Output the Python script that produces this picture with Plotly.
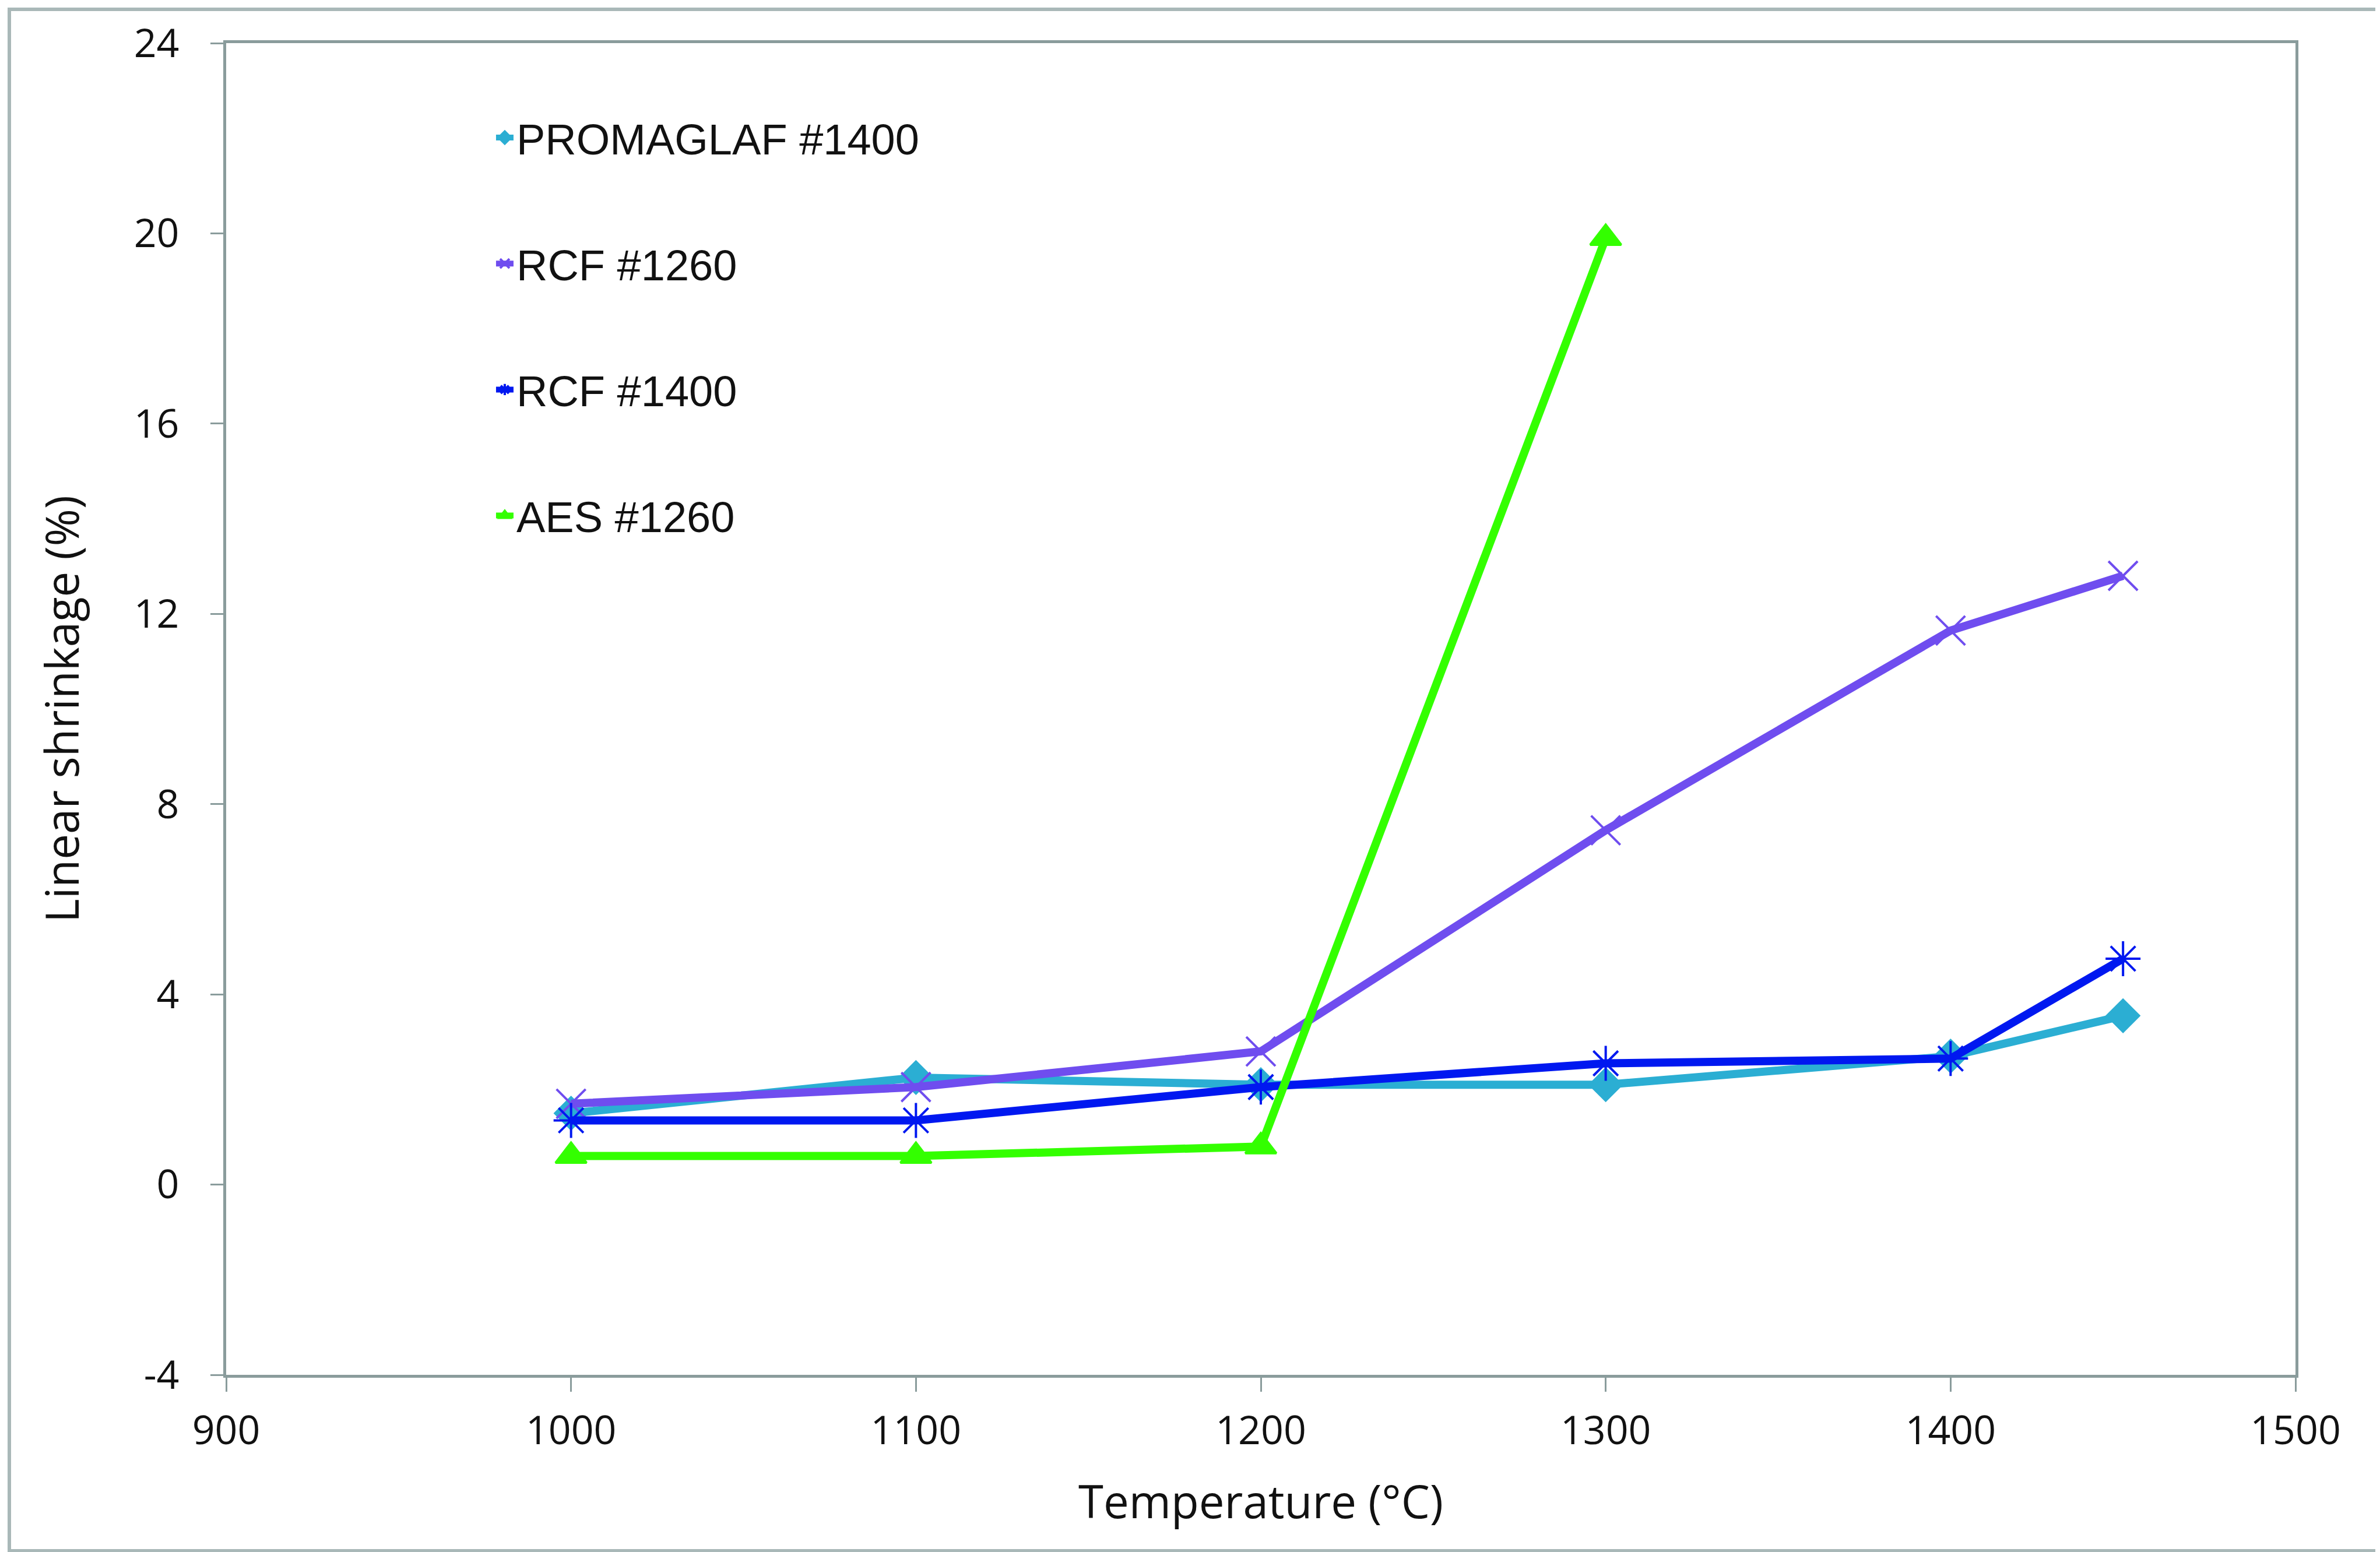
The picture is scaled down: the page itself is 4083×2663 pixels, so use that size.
import plotly.graph_objects as go

temps = [1000, 1100, 1200, 1300, 1400, 1450]
temps_aes = [1000, 1100, 1200, 1300]
promaglaf_1400 = [1.5, 2.25, 2.1, 2.1, 2.7, 3.55]
rcf_1260 = [1.7, 2.05, 2.8, 7.45, 11.65, 12.8]
rcf_1400 = [1.35, 1.35, 2.05, 2.55, 2.65, 4.75]
aes_1260 = [0.6, 0.6, 0.8, 19.9]

y_tick_vals = [-4, 0, 4, 8, 12, 16, 20, 24]
y_tick_text = ["-4", "0", "4", "8", "12", "16", "20", "24"]
x_tick_vals = [900, 1000, 1100, 1200, 1300, 1400, 1500]
x_tick_text = ["900", "1000", "1100", "1200", "1300", "1400", "1500"]

series = [
    ("PROMAGLAF #1400", temps, promaglaf_1400, "#2BAED3", "diamond", 42),
    ("RCF #1260", temps, rcf_1260, "#6F4DEF", "x-thin-open", 50),
    ("RCF #1400", temps, rcf_1400, "#0018F0", "asterisk-open", 50),
    ("AES #1260", temps_aes, aes_1260, "#33FF00", "triangle-up", 46),
]

fig = go.Figure()
for i, (name, xs, ys, col, sym, sz) in enumerate(series):
    fig.add_trace(go.Scatter(
        x=xs, y=ys, name=name, mode="lines+markers",
        legendgroup=f"g{i}",
        line=dict(color=col, width=14),
        marker=dict(symbol=sym, size=sz, color=col,
                    line=dict(color=col, width=4)),
    ))

axis_col = "#8A9C9C"
tick_font = dict(family="Open Sans", size=68, color="#111111")
title_font = dict(family="Open Sans", size=78, color="#111111")

L, R, T, B = 380, 153, 66, 312
W, H = 4083, 2663
pw, ph = W - L - R, H - T - B

fig.update_layout(
    width=W, height=H,
    margin=dict(l=L, r=R, t=T, b=B),
    paper_bgcolor="white", plot_bgcolor="white",
    showlegend=True,
    legend=dict(
        x=0.129, y=0.953, xanchor="left", yanchor="top",
        font=dict(family="Liberation Sans", size=74, color="#111111"),
        traceorder="grouped", tracegroupgap=117,
        bgcolor="rgba(0,0,0,0)", itemwidth=30,
    ),
    xaxis=dict(
        range=[900, 1500], tickvals=x_tick_vals, ticktext=x_tick_text,
        showgrid=False, zeroline=False,
        showline=True, linecolor=axis_col, linewidth=5, mirror=True,
        ticks="outside", ticklen=24, tickwidth=3, tickcolor=axis_col,
        tickfont=tick_font, ticklabelstandoff=8,
        title=dict(text="Temperature (°C)", font=title_font, standoff=55),
    ),
    yaxis=dict(
        range=[-4, 24], tickvals=y_tick_vals, ticktext=y_tick_text,
        showgrid=False, zeroline=False,
        showline=True, linecolor=axis_col, linewidth=5, mirror=True,
        ticks="outside", ticklen=22, tickwidth=3, tickcolor=axis_col,
        tickfont=tick_font, ticklabelstandoff=40,
        title=dict(text="Linear shrinkage (%)", font=title_font, standoff=70),
    ),
    shapes=[dict(
        type="rect", xref="paper", yref="paper",
        x0=(8 - L) / pw, x1=(4072 - L) / pw,
        y0=((H - B) - 2653) / ph, y1=((H - B) - 8) / ph,
        line=dict(color="#A9B8B8", width=6), layer="below",
    )],
)

fig.write_html("out.html")
